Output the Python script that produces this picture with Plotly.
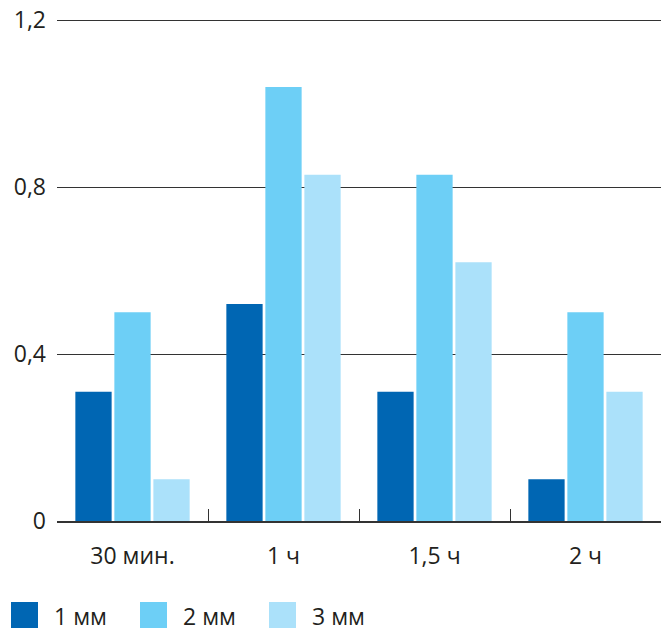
import plotly.graph_objects as go

# Data
categories = ["30 мин.", "1 ч", "1,5 ч", "2 ч"]
series_names = ["1 мм", "2 мм", "3 мм"]
values_1mm = [0.31, 0.52, 0.31, 0.10]
values_2mm = [0.50, 1.04, 0.83, 0.50]
values_3mm = [0.10, 0.83, 0.62, 0.31]
y_ticks = [0, 0.4, 0.8, 1.2]
y_tick_text = ["0", "0,4", "0,8", "1,2"]

colors = ["#0066b3", "#6dcff6", "#abe1fa"]
series_values = [values_1mm, values_2mm, values_3mm]
text_color = "#231f20"
font_family = "Open Sans"

fig = go.Figure()
for name, vals, col in zip(series_names, series_values, colors):
    fig.add_trace(go.Bar(x=categories, y=vals, name=name,
                         marker=dict(color=col, line=dict(width=0)),
                         showlegend=False))

# Plot area geometry in pixels (for the hand-drawn legend)
W, H = 661, 632
ml, mr, mt, mb = 57, 0, 19, 111
pw, ph = W - ml - mr, H - mt - mb


def px_x(p):
    return (p - ml) / pw


def px_y(p):
    return (H - mb - p) / ph


# Legend: coloured squares with labels below the chart
legend_x = [11, 140, 269]
shapes = []
annotations = []
for lx, name, col in zip(legend_x, series_names, colors):
    shapes.append(dict(type="rect", xref="paper", yref="paper",
                       x0=px_x(lx), x1=px_x(lx + 27),
                       y0=px_y(628), y1=px_y(602),
                       fillcolor=col, line=dict(width=0)))
    annotations.append(dict(xref="paper", yref="paper",
                            x=px_x(lx + 41), y=px_y(616),
                            xanchor="left", yanchor="middle",
                            text=name, showarrow=False,
                            font=dict(size=23, color=text_color, family=font_family)))

fig.update_layout(
    width=W, height=H,
    margin=dict(l=ml, r=mr, t=mt, b=mb, autoexpand=False),
    paper_bgcolor="white", plot_bgcolor="white",
    barmode="group", bargap=0.225, bargroupgap=0.07,
    font=dict(family=font_family, size=23, color=text_color),
    shapes=shapes, annotations=annotations,
)
fig.update_xaxes(
    type="category", range=[-0.5, 3.5],
    showline=True, linecolor="#333333", linewidth=1.5,
    ticks="inside", tickson="boundaries", ticklen=12, tickcolor="#333333",
    tickwidth=1, showgrid=False, ticklabelstandoff=14,
    tickfont=dict(size=23, color=text_color),
)
fig.update_yaxes(
    range=[0, 1.203], tickvals=y_ticks, ticktext=y_tick_text,
    showgrid=True, gridcolor="#333333", gridwidth=1,
    zeroline=False, showline=False, ticks="",
    ticklabelstandoff=10,
    tickfont=dict(size=23, color=text_color),
)

fig.write_html("out.html")
